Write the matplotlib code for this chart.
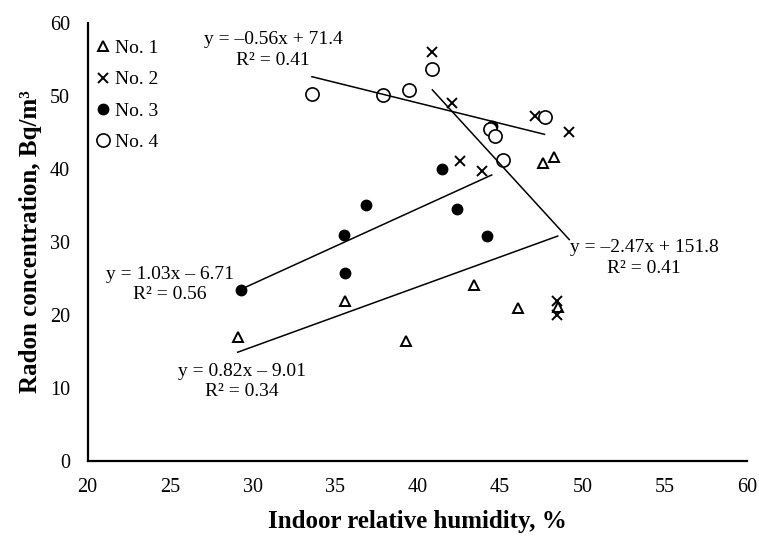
import numpy as np
import matplotlib
matplotlib.use("Agg")
import matplotlib.pyplot as plt

plt.rcParams['font.family'] = ['Liberation Serif', 'DejaVu Serif']

# data
no1_x = [29.1, 35.6, 39.3, 43.4, 46.1, 48.5, 47.6, 48.3]
no1_y = [16.9, 21.9, 16.4, 24.0, 20.9, 21.1, 40.7, 41.6]

no2_x = [40.9, 42.1, 47.1, 49.2, 42.6, 43.9, 48.45, 48.45]
no2_y = [56.0, 49.0, 47.2, 45.0, 41.0, 39.7, 21.9, 20.0]

no3_x = [29.3, 35.55, 35.6, 36.9, 41.5, 42.4, 44.2, 44.5]
no3_y = [23.4, 30.9, 25.7, 35.0, 40.0, 34.4, 30.7, 45.8]

no4_x = [33.6, 37.9, 39.5, 40.9, 44.4, 44.7, 45.2, 47.7]
no4_y = [50.2, 50.1, 50.8, 53.6, 45.4, 44.4, 41.2, 47.0]

# trend line coefficients (slope, intercept) as printed on the chart
fit1 = (0.82, -9.01)
fit2 = (-2.47, 151.8)
fit3 = (1.03, -6.71)
fit4 = (-0.56, 71.4)

labels = ["No. 1", "No. 2", "No. 3", "No. 4"]
eq_texts = ["y = 0.82x \u2013 9.01\nR\u00b2 = 0.34",
            "y = \u20132.47x + 151.8\nR\u00b2 = 0.41",
            "y = 1.03x \u2013 6.71\nR\u00b2 = 0.56",
            "y = \u20130.56x + 71.4\nR\u00b2 = 0.41"]

fig = plt.figure(figsize=(7.59, 5.36), dpi=100)
ax = fig.add_axes([0.1153, 0.1405, 0.8695, 0.8175])

ax.plot(no1_x, no1_y, '^', ms=6.5, mfc='white', mec='black', mew=1.4, label=labels[0])
ax.plot(no2_x, no2_y, 'x', ms=7, mec='black', mew=1.4, label=labels[1])
ax.plot(no3_x, no3_y, 'o', ms=7.5, mfc='black', mec='black', label=labels[2])
ax.plot(no4_x, no4_y, 'o', ms=9.5, mfc='white', mec='black', mew=1.2, label=labels[3])

# trend lines across each series' x range
for xs, (k, b) in zip([no1_x, no2_x, no3_x, no4_x], [fit1, fit2, fit3, fit4]):
    xx = np.array([min(xs), max(xs)])
    ax.plot(xx, k * xx + b, color='black', lw=1.1)

# equation labels
fs = 14
ax.text(29.36, 10.87, eq_texts[0], ha='center', va='center', fontsize=fs, linespacing=1.25)
ax.text(53.73, 27.76, eq_texts[1], ha='center', va='center', fontsize=fs, linespacing=1.25)
ax.text(25.0, 24.13, eq_texts[2], ha='center', va='center', fontsize=fs, linespacing=1.25)
ax.text(31.24, 56.24, eq_texts[3], ha='center', va='center', fontsize=fs, linespacing=1.25)

ax.set_xlim(20, 60)
ax.set_ylim(0, 60)
ax.set_xticks(range(20, 61, 5))
ax.set_yticks(range(0, 61, 10))
ax.tick_params(length=0, labelsize=14.5, pad=12.5)
for s in ['top', 'right']:
    ax.spines[s].set_visible(False)
for s in ['left', 'bottom']:
    ax.spines[s].set_linewidth(1.6)

ax.set_xlabel("Indoor relative humidity, %", fontsize=18, fontweight='bold', labelpad=9)
ax.set_ylabel("Radon concentration, Bq/m\u00b3", fontsize=18, fontweight='bold', labelpad=6)

ax.legend(loc='upper left', bbox_to_anchor=(0.0, 0.979), frameon=False,
          fontsize=14, handlelength=0.8, handletextpad=0.2, labelspacing=0.7,
          borderaxespad=0)

fig.savefig("out.png", dpi=100)
